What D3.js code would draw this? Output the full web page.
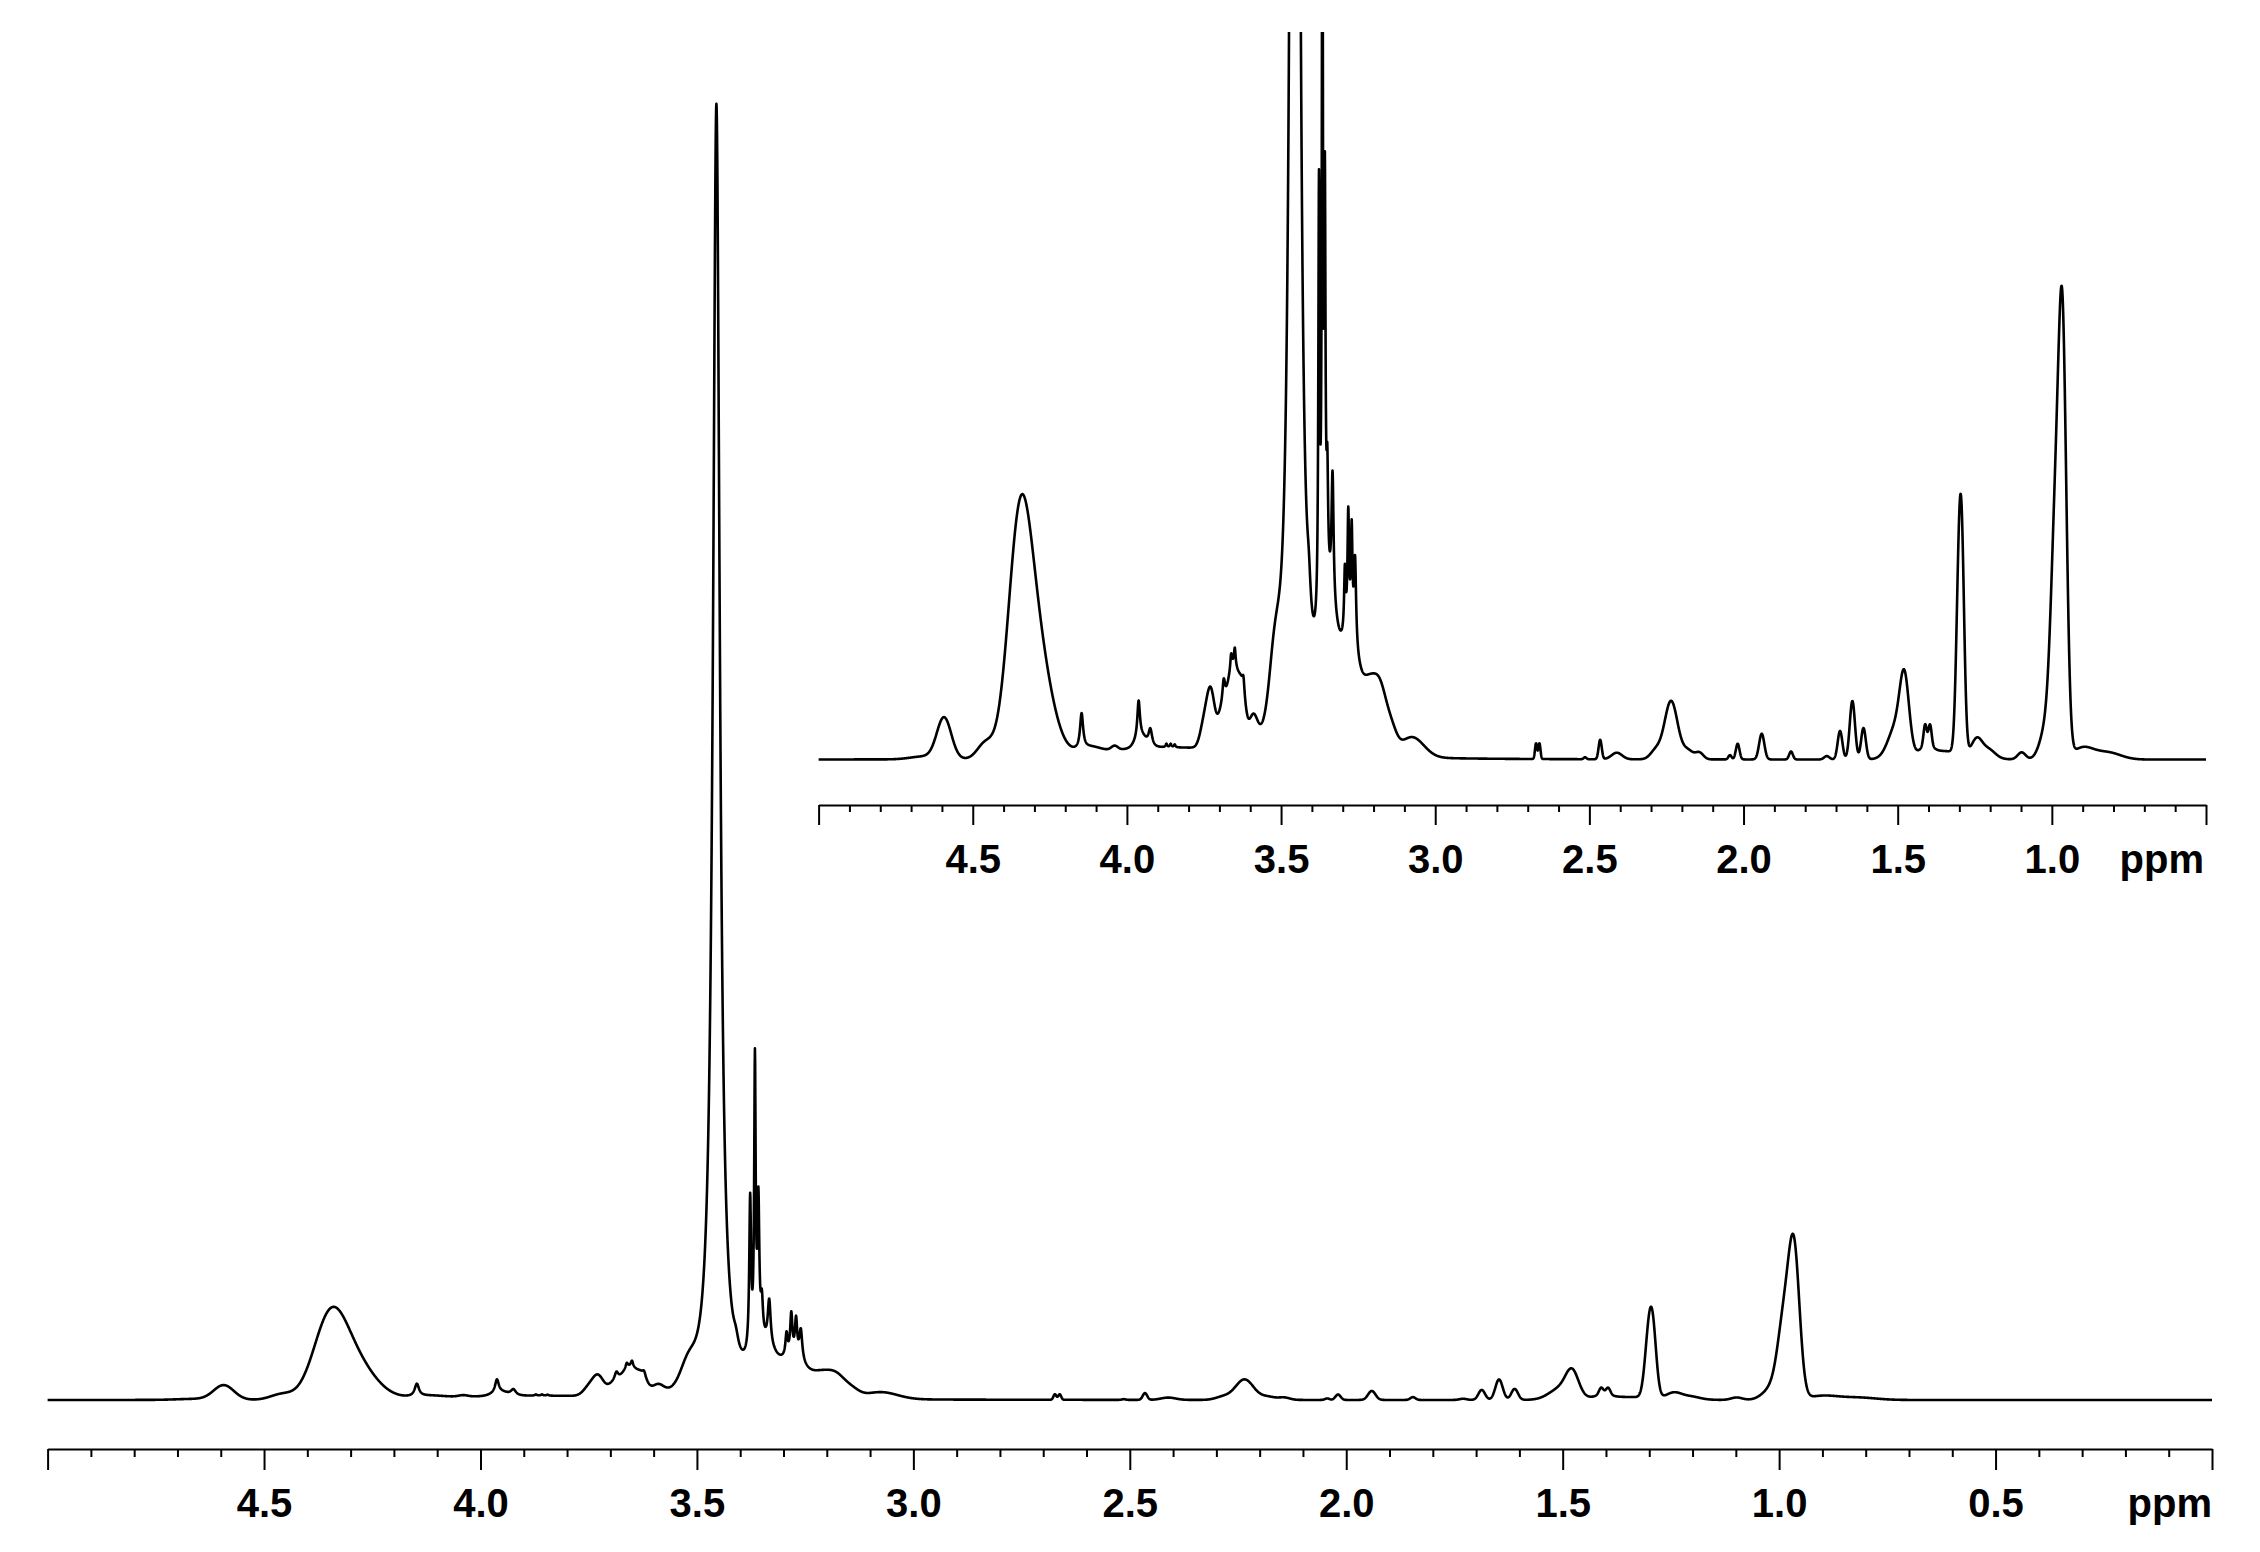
<!DOCTYPE html>
<html><head><meta charset="utf-8">
<script src="https://cdn.jsdelivr.net/npm/d3@7"></script>
<style>
body{margin:0;background:#fff}
svg{display:block}
</style>
</head><body>
<svg id="c" width="2260" height="1552"></svg>
<script>
// ---- Data: resolved peak list (ppm, relative height, FWHM in ppm, line shape) ----
const peakPpm    = [3.9, 4.66, 4.593, 4.348, 4.29, 4.46, 4.147, 4.12, 4.04, 3.962, 3.955, 3.924, 3.872, 3.858, 3.845,
                    3.728, 3.75, 3.655, 3.662, 3.650, 3.686, 3.695, 3.622, 3.625, 3.59, 3.52, 3.455, 3.41,
                    3.345, 3.377, 3.366, 3.358, 3.350, 3.333, 3.275, 3.293, 3.282, 3.271, 3.260, 3.215, 3.175, 3.14, 3.075,
                    2.673, 2.662, 2.514, 2.465, 2.411, 2.235, 2.285, 2.18, 2.143, 2.044, 2.019, 1.941, 1.846, 1.73,
                    1.687, 1.647, 1.611, 1.478, 1.505, 1.411, 1.395, 1.405, 1.36, 1.303, 1.292, 1.243, 1.205, 1.098,
                    0.965, 0.988, 1.015, 0.90, 0.82];
const peakHeight = [3.5, 1.0, 14.5, 75, 34, 5.3, 12.5, 2, 1.5, 13, 4, 6, 1.2, 1.2, 1.0,
                    19, 8, 28, 5, 6, 8, 8, 5, 10, 8, 20, 1295, 12,
                    45, 150, 280, 135, 35, 45, 35, 22, 40, 35, 30, 22, 18, 6, 7,
                    5.5, 5.5, 0.7, 6.8, 2.3, 20.5, 3, 3, 2.3, 1.5, 5.5, 9, 2.8, 1.2,
                    10, 20.5, 11, 24, 11, 7, 7, 3, 3, 46, 65, 6, 3, 2.5,
                    138, 75, 12, 4, 2.5];
const peakWidth  = [0.5, 0.1, 0.055, 0.09, 0.11, 0.06, 0.012, 0.08, 0.025, 0.010, 0.04, 0.014, 0.006, 0.006, 0.006,
                    0.03, 0.03, 0.05, 0.006, 0.006, 0.01, 0.03, 0.008, 0.025, 0.03, 0.04, 0.019, 0.015,
                    0.07, 0.005, 0.004, 0.005, 0.006, 0.008, 0.06, 0.006, 0.006, 0.006, 0.008, 0.06, 0.05, 0.04, 0.09,
                    0.008, 0.008, 0.01, 0.012, 0.04, 0.05, 0.04, 0.04, 0.03, 0.012, 0.014, 0.02, 0.014, 0.02,
                    0.018, 0.02, 0.018, 0.035, 0.06, 0.012, 0.012, 0.04, 0.2, 0.02, 0.02, 0.04, 0.05, 0.03,
                    0.03, 0.035, 0.05, 0.08, 0.1];
const peakShape  = ["G","G","G","G","G","G","L","G","G","L","G","L","L","L","L",
                    "G","G","G","L","L","L","G","L","G","G","G","L","L",
                    "G","L","L","L","L","L","G","L","L","L","L","G","G","G","G",
                    "G","G","G","G","G","G","G","G","G","G","G","G","G","G",
                    "G","G","G","G","G","G","G","G","G","G","G","G","G","G",
                    "G","G","G","G","G"];

// axis ticks
const mainMajorTicks  = [5.0, 4.5, 4.0, 3.5, 3.0, 2.5, 2.0, 1.5, 1.0, 0.5, 0.0];
const mainMajorLabels = ["", "4.5", "4.0", "3.5", "3.0", "2.5", "2.0", "1.5", "1.0", "0.5", ""];
const insetMajorTicks  = [5.0, 4.5, 4.0, 3.5, 3.0, 2.5, 2.0, 1.5, 1.0, 0.5];
const insetMajorLabels = ["", "4.5", "4.0", "3.5", "3.0", "2.5", "2.0", "1.5", "1.0", ""];
const unitLabel = "ppm";

// ---- Rendering ----
const svg = d3.select("#c");
const FONT = "'Liberation Sans', Arial, Helvetica, sans-serif";

function intensity(p) {
  let s = 0;
  for (let i = 0; i < peakPpm.length; i++) {
    const d = (p - peakPpm[i]) / peakWidth[i];
    if (peakShape[i] === "L") s += peakHeight[i] / (1 + 4 * d * d);
    else s += peakHeight[i] * Math.exp(-4 * Math.LN2 * d * d);
  }
  return s;
}
const grid = d3.range(0, 10001).map(i => 5 - i * 0.0005);
const trace = grid.map(p => ({p: p, v: intensity(p)}));

// main panel
const xMain = d3.scaleLinear().domain([5, 0]).range([47.6, 2212]);
const yMain = d3.scaleLinear().domain([0, 1300]).range([1400, 100]);
// inset panel
const xIn = d3.scaleLinear().domain([5, 0.5]).range([818.6, 2206]);
const yIn = d3.scaleLinear().domain([0, 100]).range([759.6, 759.6 - 285]);

svg.append("defs").append("clipPath").attr("id", "inclip")
  .append("rect").attr("x", 0).attr("y", 32).attr("width", 2260).attr("height", 1520);

svg.append("path")
  .datum(trace)
  .attr("fill", "none").attr("stroke", "#000").attr("stroke-width", 2.6)
  .attr("stroke-linejoin", "round")
  .attr("d", d3.line().x(d => xMain(d.p)).y(d => yMain(d.v)));

svg.append("path")
  .datum(trace.filter(d => d.p >= 0.5 - 1e-9))
  .attr("clip-path", "url(#inclip)")
  .attr("fill", "none").attr("stroke", "#000").attr("stroke-width", 2.6)
  .attr("stroke-linejoin", "round")
  .attr("d", d3.line().x(d => xIn(d.p)).y(d => yIn(d.v)));

function drawAxis(x, y0, majors, labels, majorLen, minorLen, ppmX) {
  const dom = x.domain();
  const lo = Math.min(dom[0], dom[1]), hi = Math.max(dom[0], dom[1]);
  const minors = d3.range(Math.round(lo * 10), Math.round(hi * 10) + 1)
    .filter(i => i % 5 !== 0).map(i => i / 10);
  const gMin = svg.append("g").attr("transform", `translate(0,${y0})`)
    .call(d3.axisBottom(x).tickValues(minors).tickSize(minorLen).tickSizeOuter(0).tickFormat(""));
  gMin.select(".domain").attr("stroke-width", 2.2);
  gMin.selectAll(".tick line").attr("stroke-width", 2);
  const gMaj = svg.append("g").attr("transform", `translate(0,${y0})`)
    .call(d3.axisBottom(x).tickValues(majors).tickSize(majorLen).tickSizeOuter(0)
      .tickFormat((d, i) => labels[i]));
  gMaj.select(".domain").remove();
  gMaj.selectAll(".tick line").attr("stroke-width", 2);
  gMaj.attr("font-size", 40).attr("font-family", FONT).attr("font-weight", "bold");
  gMaj.selectAll(".tick text").attr("y", 68).attr("dy", "0").attr("fill", "#000");
  svg.append("text").attr("x", ppmX).attr("y", y0 + 68)
    .attr("text-anchor", "end").attr("font-size", 40).attr("font-family", FONT)
    .attr("font-weight", "bold").attr("fill", "#000").text(unitLabel);
}
drawAxis(xMain, 1449, mainMajorTicks, mainMajorLabels, 21, 8, 2212);
drawAxis(xIn, 805, insetMajorTicks, insetMajorLabels, 20, 7, 2204);
</script>
</body></html>
